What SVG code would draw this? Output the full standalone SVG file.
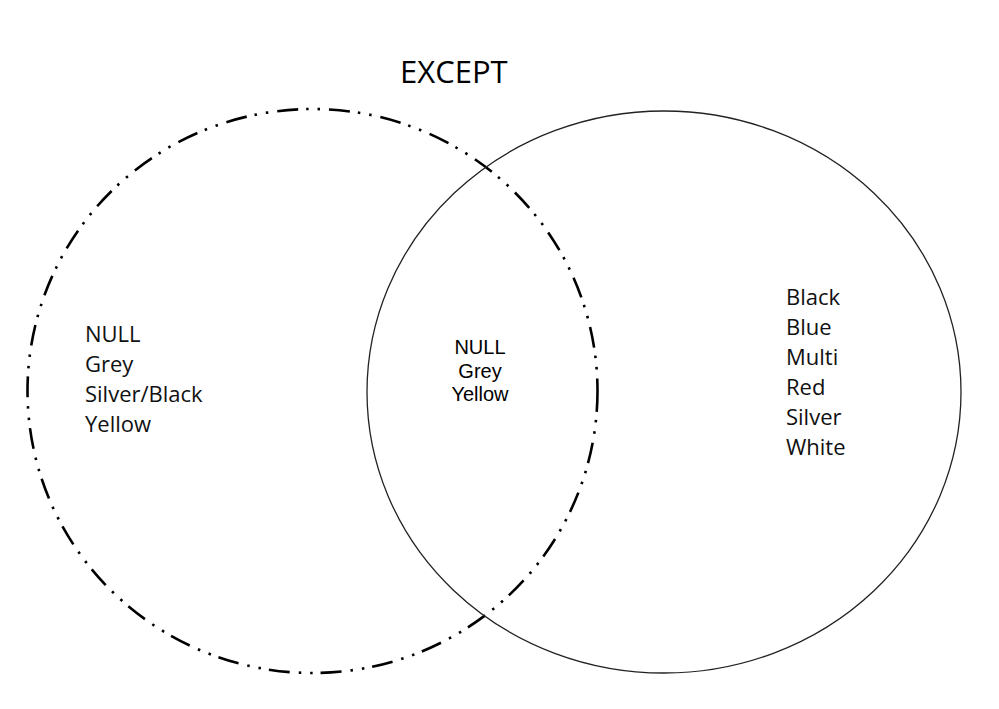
<svg xmlns="http://www.w3.org/2000/svg" width="999" height="709" viewBox="0 0 999 709">
<style>
.bg{fill:#fff}
.set{fill:none;stroke:#000}
.dashdot{stroke-width:2.6;stroke-dasharray:21 8 2.5 9 2.5 9}
.solid{stroke-width:1.3;stroke:#222}
.lbl{font-family:"Open Sans","Liberation Sans",sans-serif;font-size:22px;fill:#111}
.mid{font-family:"Liberation Sans",Arial,sans-serif;font-size:20px;fill:#000;text-anchor:middle}
.title{font-family:"Open Sans","Liberation Sans",sans-serif;font-size:31px;fill:#000}
</style>
<rect class="bg" x="0" y="0" width="999" height="709"/>
<text class="title" x="400" y="83">EXCEPT</text>
<g id="setA">
<ellipse class="set dashdot" cx="312.5" cy="391" rx="285" ry="282"/>
<text class="lbl" x="85" y="342">NULL</text>
<text class="lbl" x="85" y="372">Grey</text>
<text class="lbl" x="85" y="402">Silver/Black</text>
<text class="lbl" x="85" y="432">Yellow</text>
</g>
<g id="setB">
<ellipse class="set solid" cx="664" cy="392" rx="297" ry="281"/>
<text class="lbl" x="786" y="305">Black</text>
<text class="lbl" x="786" y="335">Blue</text>
<text class="lbl" x="786" y="365">Multi</text>
<text class="lbl" x="786" y="395">Red</text>
<text class="lbl" x="786" y="425">Silver</text>
<text class="lbl" x="786" y="455">White</text>
</g>
<g id="intersection">
<text class="mid" x="480" y="354">NULL</text>
<text class="mid" x="480" y="378">Grey</text>
<text class="mid" x="480" y="401">Yellow</text>
</g>
<g id="connectors"></g>
</svg>
